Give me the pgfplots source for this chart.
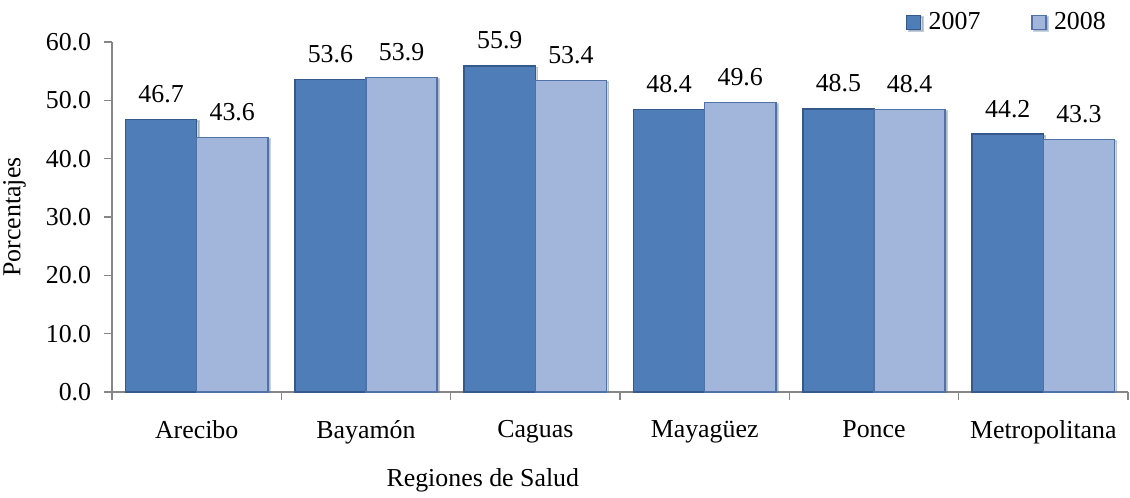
\documentclass[border=0pt]{standalone}
\usepackage{fontspec}
\setmainfont{Liberation Serif}
\usepackage{pgfplots}
\pgfplotsset{compat=1.18}
\usetikzlibrary{shadows}
\definecolor{c07}{HTML}{4F7DB8}
\definecolor{c07b}{HTML}{34598A}
\definecolor{c08}{HTML}{A2B5DB}
\definecolor{c08b}{HTML}{5072A6}
\definecolor{axgray}{HTML}{868686}
\begin{document}
\fontsize{19.4}{23}\selectfont
\begin{tikzpicture}
\begin{axis}[
  at={(0pt,0pt)}, anchor=south west,
  scale only axis, width=762pt, height=262.5pt,
  ybar, bar width=0.42,
  xmin=-0.5, xmax=5.5, ymin=0, ymax=60,
  axis x line*=bottom, axis y line*=left,
  axis line style={axgray, line width=1.2pt},
  tick align=outside,
  xtick={0,...,5},
  xticklabels={Arecibo,Bayamón,Caguas,Mayagüez,Ponce,Metropolitana},
  major x tick style={draw=none},
  minor xtick={-0.5,0.5,1.5,2.5,3.5,4.5,5.5},
  minor tick length=6pt, major tick length=6pt,
  tick style={axgray, line width=1pt},
  every tick label/.append style={font=\fontsize{19.4}{23}\selectfont, text=black},
  x tick label style={yshift=-8.5pt},
  ytick={0,10,...,60},
  /pgf/number format/assume math mode=true,
  y tick label style={xshift=-3pt, /pgf/number format/.cd, fixed, fixed zerofill, precision=1},
  nodes near coords,
  nodes near coords style={font=\fontsize{19.4}{23}\selectfont, text=black, anchor=south, yshift=5.5pt,
    /pgf/number format/.cd, fixed, fixed zerofill, precision=1, assume math mode=true},
  xlabel={Regiones de Salud},
  ylabel={Porcentajes},
  label style={font=\fontsize{19.4}{23}\selectfont},
  xlabel style={at={(axis description cs:0.365,-0.2514)}, anchor=center},
  ylabel style={at={(axis description cs:-0.096,0.5)}, anchor=center, rotate=0},
  legend columns=2,
  legend style={draw=none, fill=none, at={(axis description cs:0.781,1.056)}, anchor=west,
    font=\fontsize{19.4}{23}\selectfont,
    /tikz/every even column/.append style={column sep=36pt},
    inner sep=0pt, nodes={inner sep=2pt}},
  legend image code/.code={\draw[#1] (0pt,-5.25pt) rectangle (10.5pt,5.25pt); \path (14pt,0pt);},
]
\addplot[fill=c07, draw=c07b, line width=1.2pt, bar shift=-0.21,
  drop shadow={shadow xshift=1.6pt, shadow yshift=-1.2pt, opacity=0.3}]
  coordinates {(0,46.7) (1,53.6) (2,55.9) (3,48.4) (4,48.5) (5,44.2)};
\addplot[fill=c08, draw=c08b, line width=1.2pt, bar shift=0.21,
  drop shadow={shadow xshift=1.6pt, shadow yshift=-1.2pt, opacity=0.3}]
  coordinates {(0,43.6) (1,53.9) (2,53.4) (3,49.6) (4,48.4) (5,43.3)};
\legend{2007,2008}
\end{axis}
\pgfresetboundingbox
\path (-84pt,-78.75pt) rectangle (763.5pt,294pt);
\end{tikzpicture}
\end{document}
